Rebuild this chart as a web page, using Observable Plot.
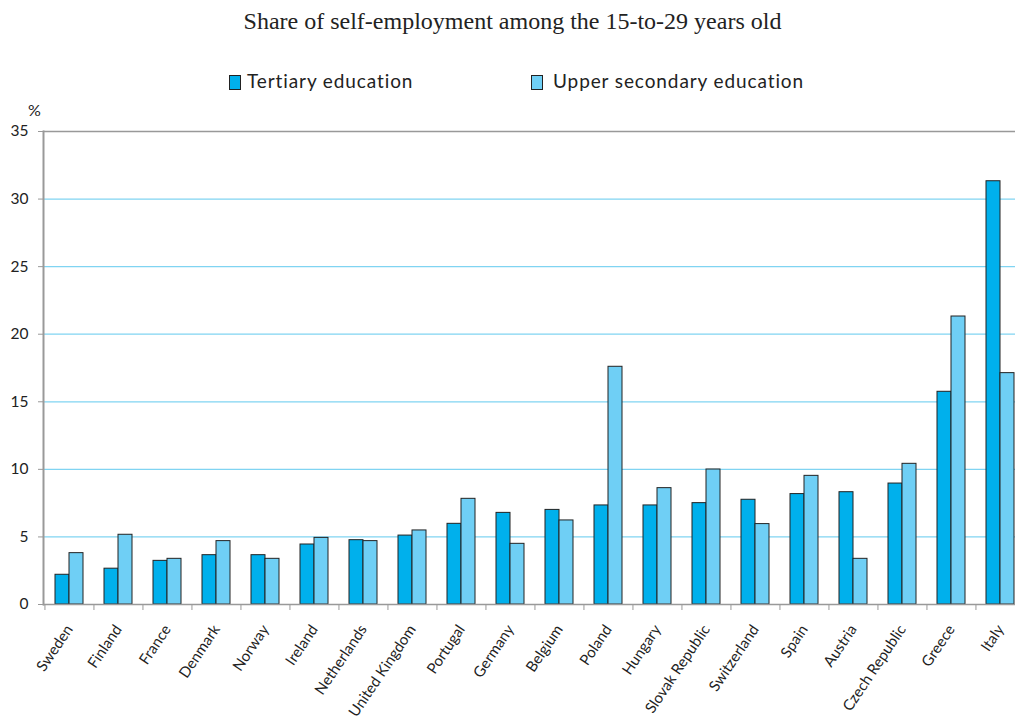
<!DOCTYPE html>
<html>
<head>
<meta charset="utf-8">
<script src="https://cdn.jsdelivr.net/npm/d3@7"></script>
<script src="https://cdn.jsdelivr.net/npm/@observablehq/plot@0.6"></script>
<style>
  html, body { margin: 0; padding: 0; background: #fff; overflow: hidden; }
  #wrap { position: relative; width: 1015px; height: 724px; overflow: hidden; background: #fff; }
  #title { position: absolute; left: 0; width: 1025px; top: 8px; text-align: center;
    font-family: "Liberation Serif", "DejaVu Serif", serif; font-size: 24px; color: #222; }
  .leg { position: absolute; top: 69px; font-family: Lato, "Open Sans", sans-serif; font-size: 19px; letter-spacing: 0.9px; color: #222; white-space: nowrap; }
  .sw { position: absolute; top: 6px; width: 10px; height: 13px; border: 1px solid #222; }
  .leg span.t { position: absolute; top: 0; }
  #chart { position: absolute; left: 0; top: 95px; }
</style>
</head>
<body>
<div id="wrap">
  <div id="title">Share of self-employment among the 15-to-29 years old</div>
  <div class="leg" id="leg1" style="left:229px"><div class="sw" style="left:0;background:#00b0ec"></div><span class="t" style="left:18px">Tertiary education</span></div>
  <div class="leg" id="leg2" style="left:531px"><div class="sw" style="left:0;background:#6fcff5"></div><span class="t" style="left:22px">Upper secondary education</span></div>
  <div id="chart"></div>
</div>
<script>
const countries = ["Sweden","Finland","France","Denmark","Norway","Ireland","Netherlands","United Kingdom","Portugal","Germany","Belgium","Poland","Hungary","Slovak Republic","Switzerland","Spain","Austria","Czech Republic","Greece","Italy"];
const tertiary = [2.2,2.65,3.23,3.65,3.65,4.44,4.76,5.1,5.97,6.78,7.0,7.33,7.33,7.5,7.75,8.17,8.31,8.95,15.74,31.32];
const upperSecondary = [3.8,5.16,3.38,4.69,3.38,4.93,4.69,5.48,7.82,4.49,6.22,17.59,8.61,9.99,5.95,9.52,3.38,10.41,21.31,17.12];
const yTicks = [0,5,10,15,20,25,30,35];
const gridTicks = [5,10,15,20,25,30];

const tData = countries.map((c, i) => ({country: c, value: tertiary[i]}));
const uData = countries.map((c, i) => ({country: c, value: upperSecondary[i]}));

const W = 1015, H = 629, ML = 43, MR = -10;
const step = (W - MR - ML) / countries.length;

const font = "Lato, 'Open Sans', sans-serif";

const chart = Plot.plot({
  width: W,
  height: H,
  marginLeft: ML,
  marginRight: MR,
  marginTop: 36,
  marginBottom: 120,
  style: {fontFamily: font, fontSize: "15px", color: "#222", background: "#fff", overflow: "hidden"},
  x: {domain: countries, paddingInner: 0.43, paddingOuter: 0.215},
  y: {domain: [0, 35]},
  marks: [
    Plot.ruleY(gridTicks, {stroke: "#80d4f2", strokeWidth: 1.3}),
    Plot.ruleY([35], {stroke: "#999", strokeWidth: 1.5}),
    Plot.barY(tData, {x: "country", y: "value", fill: "#00b0ec", stroke: "#222", strokeWidth: 1, insetRight: 14}),
    Plot.barY(uData, {x: "country", y: "value", fill: "#6fcff5", stroke: "#222", strokeWidth: 1, insetLeft: 14}),
    Plot.ruleY([0], {stroke: "#999", strokeWidth: 1.5}),
    Plot.frame({anchor: "left", stroke: "#999", strokeWidth: 2}),
    Plot.axisY({ticks: yTicks, tickSize: 5, tickPadding: 10, stroke: "#999", label: null, fontSize: 15.5}),
    Plot.axisX({tickSize: 6, tickFormat: () => "", dx: -step / 2, stroke: "#999", label: null}),
    Plot.axisX({tickSize: 0, tickPadding: 22, tickRotate: -56, label: null, fontSize: 15}),
    Plot.text(["%"], {frameAnchor: "top-left", text: d => d, dx: -9, dy: -27, fontSize: 16, textAnchor: "middle"})
  ]
});
document.getElementById("chart").appendChild(chart);
</script>
</body>
</html>
